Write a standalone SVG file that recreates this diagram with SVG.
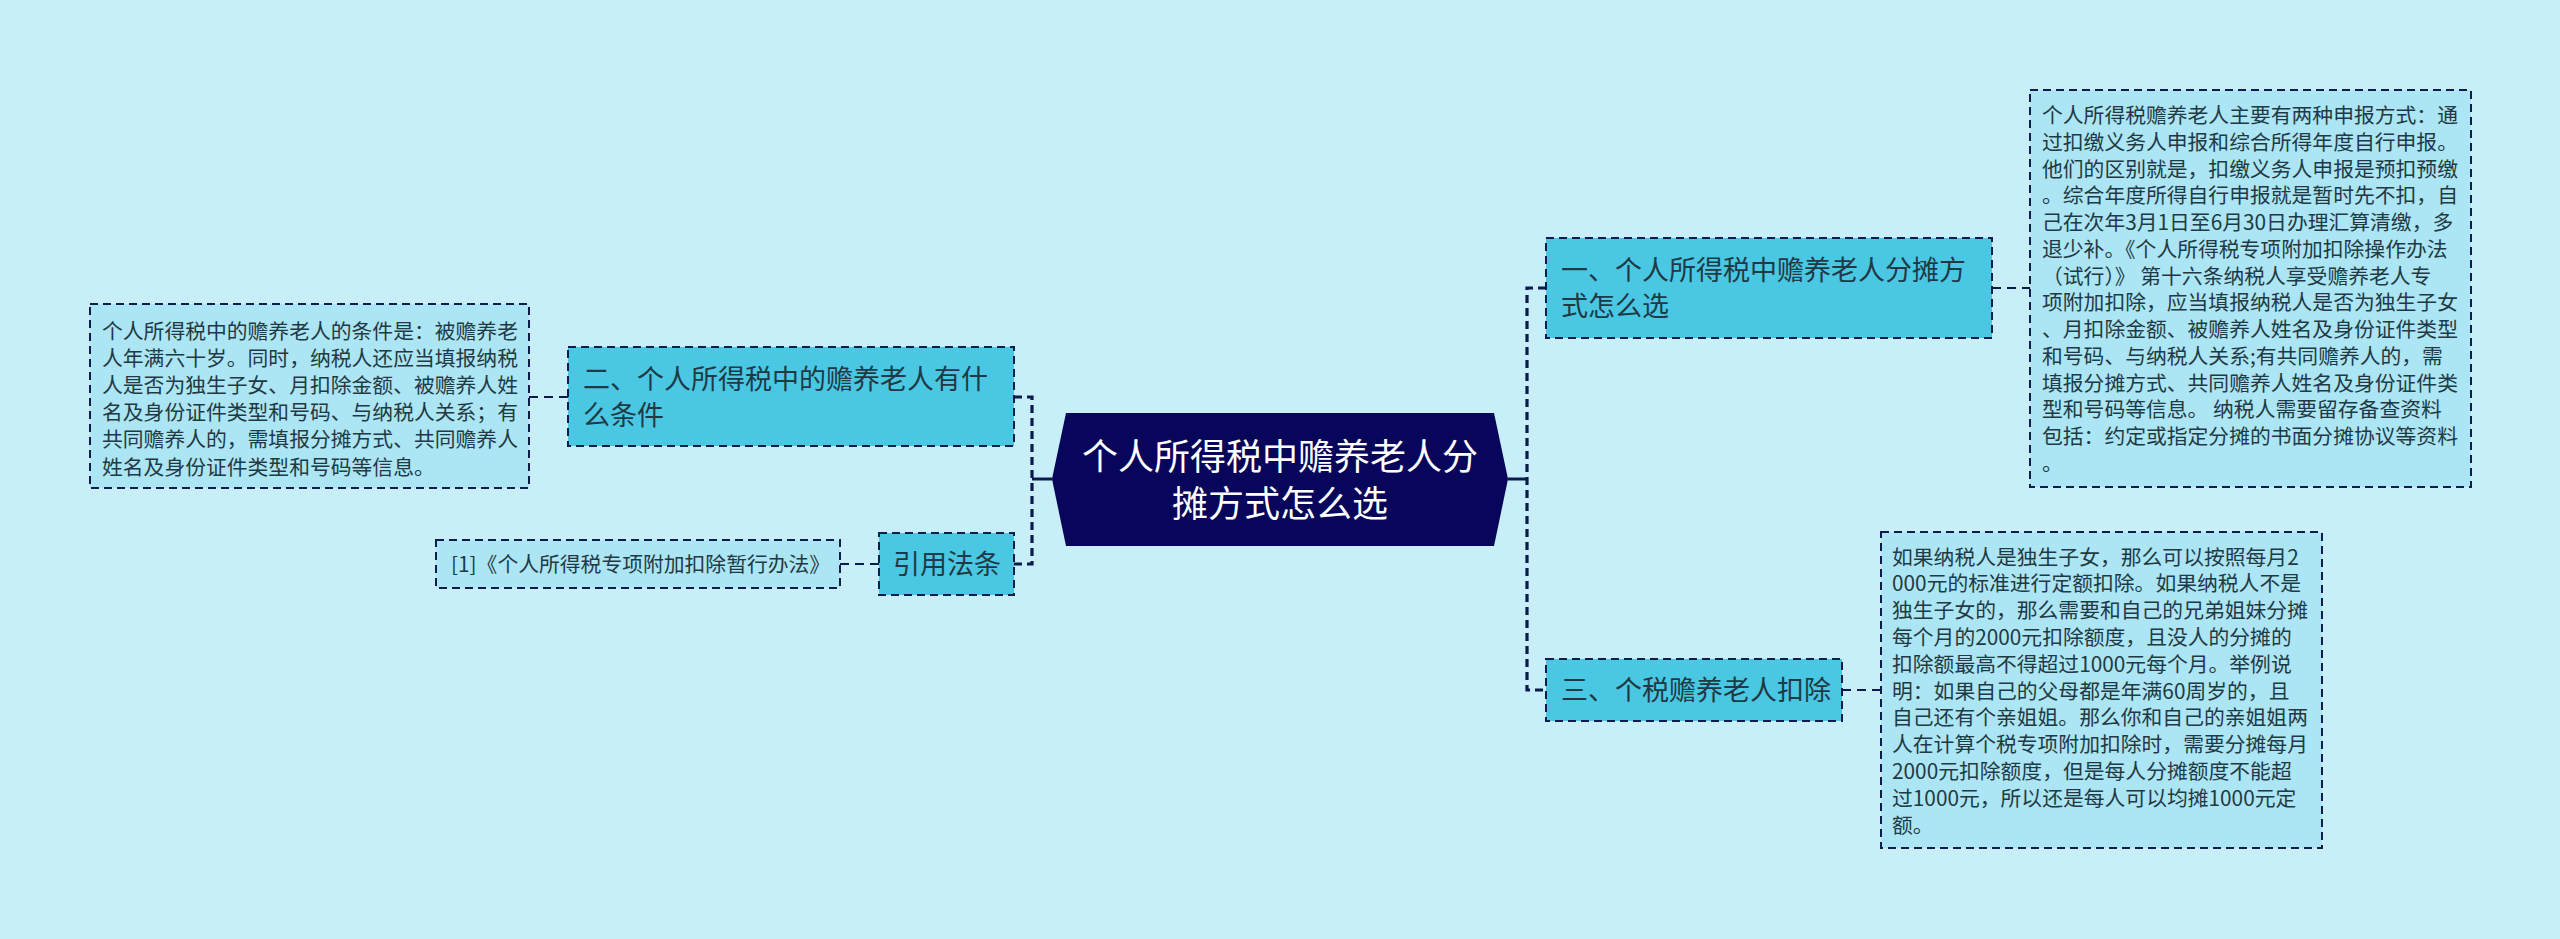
<svg xmlns="http://www.w3.org/2000/svg" width="2560" height="939" viewBox="0 0 2560 939">
<defs>
<style>
.bg{fill:#c8eff7}
.main{fill:#4ac7e3;stroke:#0e1d4c;stroke-width:2;stroke-dasharray:8 5}
.detail{fill:#ace5f3;stroke:#0e1d4c;stroke-width:2;stroke-dasharray:8 5}
.root{fill:#07065a}
.trunk{fill:none;stroke:#0b1a4d;stroke-width:3.2;stroke-dasharray:8 5}
.twig{fill:none;stroke:#0b1a4d;stroke-width:2;stroke-dasharray:9 6}
.solid{fill:none;stroke:#0b1a4d;stroke-width:3}
text{font-family:"Noto Sans CJK SC","Noto Sans",sans-serif;fill:#1f3a45}
.t27{font-size:27px}
.t21{font-size:20.8px}
.troot{font-size:36px;fill:#ffffff}
</style>
</defs>
<rect class="bg" x="0" y="0" width="2560" height="939"/>
<g id="connectors">
<path class="trunk" d="M1014,397 H1032 V564 H1014"/>
<path class="solid" d="M1032,479 H1052"/>
<path class="trunk" d="M1546,288 H1527 V690 H1546"/>
<path class="solid" d="M1508,479 H1527"/>
<path class="twig" d="M568,397 H529"/>
<path class="twig" d="M879,564 H840"/>
<path class="twig" d="M1992,288 H2030"/>
<path class="twig" d="M1842,690 H1881"/>
</g>
<g id="root">
<polygon class="root" points="1066,413 1494,413 1508,479 1494,546 1066,546 1052,479"/>
<text class="troot" text-anchor="middle"><tspan x="1280" y="469.5">个人所得税中赡养老人分</tspan><tspan x="1280" y="516.5">摊方式怎么选</tspan></text>
</g>
<g id="node-1">
<rect class="main" x="1546" y="238" width="446" height="100"/>
<text class="t27"><tspan x="1561" y="280">一、个人所得税中赡养老人分摊方</tspan><tspan x="1561" y="316">式怎么选</tspan></text>
</g>
<g id="detail-1">
<rect class="detail" x="2030" y="90" width="441" height="397"/>
<text class="t21">
<tspan x="2042" y="123">个人所得税赡养老人主要有两种申报方式：通</tspan>
<tspan x="2042" y="149.75">过扣缴义务人申报和综合所得年度自行申报。</tspan>
<tspan x="2042" y="176.5">他们的区别就是，扣缴义务人申报是预扣预缴</tspan>
<tspan x="2042" y="203.25">。综合年度所得自行申报就是暂时先不扣，自</tspan>
<tspan x="2042" y="230">己在次年3月1日至6月30日办理汇算清缴，多</tspan>
<tspan x="2042" y="256.75">退少补。《个人所得税专项附加扣除操作办法</tspan>
<tspan x="2042" y="283.5">（试行）》 第十六条纳税人享受赡养老人专</tspan>
<tspan x="2042" y="310.25">项附加扣除，应当填报纳税人是否为独生子女</tspan>
<tspan x="2042" y="337">、月扣除金额、被赡养人姓名及身份证件类型</tspan>
<tspan x="2042" y="363.75">和号码、与纳税人关系;有共同赡养人的，需</tspan>
<tspan x="2042" y="390.5">填报分摊方式、共同赡养人姓名及身份证件类</tspan>
<tspan x="2042" y="417.25">型和号码等信息。 纳税人需要留存备查资料</tspan>
<tspan x="2042" y="444">包括：约定或指定分摊的书面分摊协议等资料</tspan>
<tspan x="2042" y="470.75">。</tspan>
</text>
</g>
<g id="node-3">
<rect class="main" x="1546" y="659" width="296" height="62"/>
<text class="t27"><tspan x="1561" y="700">三、个税赡养老人扣除</tspan></text>
</g>
<g id="detail-3">
<rect class="detail" x="1881" y="532" width="441" height="316"/>
<text class="t21">
<tspan x="1892" y="564.6">如果纳税人是独生子女，那么可以按照每月2</tspan>
<tspan x="1892" y="591.4">000元的标准进行定额扣除。如果纳税人不是</tspan>
<tspan x="1892" y="618.2">独生子女的，那么需要和自己的兄弟姐妹分摊</tspan>
<tspan x="1892" y="645">每个月的2000元扣除额度，且没人的分摊的</tspan>
<tspan x="1892" y="671.8">扣除额最高不得超过1000元每个月。举例说</tspan>
<tspan x="1892" y="698.6">明：如果自己的父母都是年满60周岁的，且</tspan>
<tspan x="1892" y="725.4">自己还有个亲姐姐。那么你和自己的亲姐姐两</tspan>
<tspan x="1892" y="752.2">人在计算个税专项附加扣除时，需要分摊每月</tspan>
<tspan x="1892" y="779">2000元扣除额度，但是每人分摊额度不能超</tspan>
<tspan x="1892" y="805.8">过1000元，所以还是每人可以均摊1000元定</tspan>
<tspan x="1892" y="832.6">额。</tspan>
</text>
</g>
<g id="node-2">
<rect class="main" x="568" y="347" width="446" height="99"/>
<text class="t27"><tspan x="583" y="389">二、个人所得税中的赡养老人有什</tspan><tspan x="583" y="425">么条件</tspan></text>
</g>
<g id="detail-2">
<rect class="detail" x="90" y="304" width="439" height="184"/>
<text class="t21">
<tspan x="102" y="339">个人所得税中的赡养老人的条件是：被赡养老</tspan>
<tspan x="102" y="366.1">人年满六十岁。同时，纳税人还应当填报纳税</tspan>
<tspan x="102" y="393.2">人是否为独生子女、月扣除金额、被赡养人姓</tspan>
<tspan x="102" y="420.3">名及身份证件类型和号码、与纳税人关系；有</tspan>
<tspan x="102" y="447.4">共同赡养人的，需填报分摊方式、共同赡养人</tspan>
<tspan x="102" y="474.5">姓名及身份证件类型和号码等信息。</tspan>
</text>
</g>
<g id="node-law">
<rect class="main" x="879" y="533" width="135" height="62"/>
<text class="t27"><tspan x="893" y="574">引用法条</tspan></text>
</g>
<g id="detail-law">
<rect class="detail" x="436" y="540" width="404" height="48"/>
<text class="t21"><tspan x="451" y="572">[1]《个人所得税专项附加扣除暂行办法》</tspan></text>
</g>
</svg>
